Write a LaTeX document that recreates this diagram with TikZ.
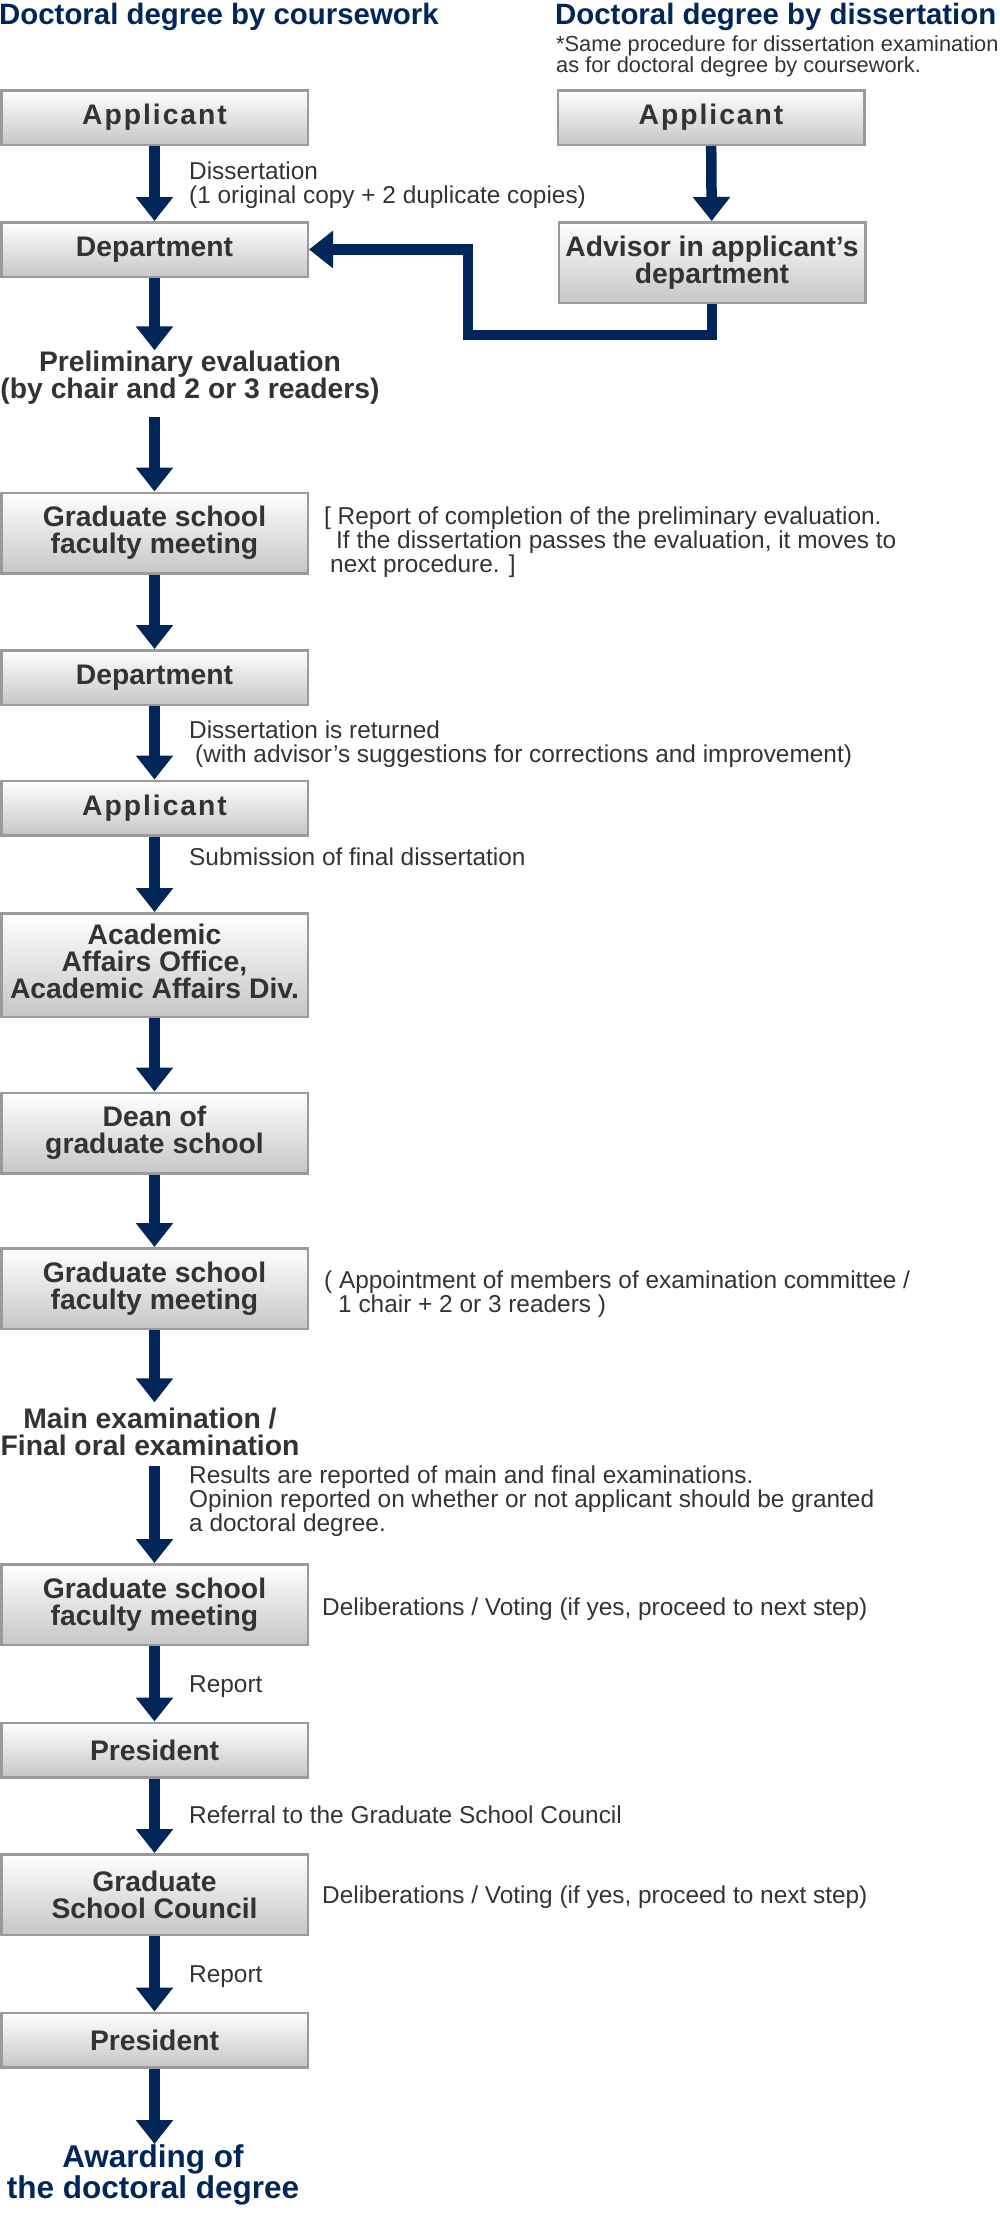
\documentclass[tikz,border=0pt]{standalone}
\usepackage{fontspec}
\setmainfont{Liberation Sans}
\usetikzlibrary{arrows.meta}
\definecolor{navy}{HTML}{00265A}
\definecolor{txtgray}{HTML}{333333}
\definecolor{boxline}{HTML}{9A9A9A}
\definecolor{boxbot}{HTML}{C6C6C6}
\newcommand\dgBoxFont{\fontsize{28.3}{27}\selectfont\bfseries}
\newcommand\dgSideFont{\fontsize{24.4}{24}\selectfont}
\newcommand\dgNoteFont{\fontsize{21.8}{21}\selectfont}
\newcommand\dgTitleFont{\fontsize{29.4}{30}\selectfont\bfseries}
\newcommand\dgAwardFont{\fontsize{31.5}{31}\selectfont\bfseries}
\newcommand\dgSpaced[1]{{\addfontfeature{LetterSpace=7}#1}}
\begin{document}
\begin{tikzpicture}[x=1pt,y=-1pt,
  box/.style={rectangle, draw=boxline, line width=2.5pt, top color=white, bottom color=boxbot,
    minimum width=306.5pt, inner sep=0pt, text=txtgray, font=\dgBoxFont, align=center},
  sbox/.style={box, minimum height=54.5pt},
  tbox/.style={box, minimum height=80.5pt},
  sidetext/.style={inner sep=0pt, align=left, anchor=base west, text=txtgray, font=\dgSideFont},
  steptext/.style={inner sep=0pt, align=center, anchor=base, text=txtgray, font=\dgBoxFont},
  titletext/.style={inner sep=0pt, align=left, anchor=base west, text=navy, font=\dgTitleFont},
  arr/.style={draw=navy, line width=10.5pt, line join=miter, -{Triangle[width=36pt,length=24pt]}}]
\useasboundingbox (0,0) rectangle (1000,2240);

% titles (multi-line nodes are placed by the baseline of their last line)
\node[titletext] (t1) at (-1,25) {Doctoral degree by coursework};
\node[titletext] (t2) at (555,25) {Doctoral degree by dissertation};
\node[inner sep=0pt, align=left, anchor=base west, text=txtgray, font=\dgNoteFont] (note) at (556,73)
  {*Same procedure for dissertation examination\\as for doctoral degree by coursework.};

% left column
\node[sbox] (app1) at (154.5,117.5) {\dgSpaced{Applicant}};
\node[sbox] (dep1) at (154.5,249.5) {Department};
\node[steptext] (prelim) at (190,398) {Preliminary evaluation\\(by chair and 2 or 3 readers)};
\node[tbox] (gsfm1) at (154.5,533) {Graduate school\\faculty meeting};
\node[sbox] (dep2) at (154.5,677.5) {Department};
\node[sbox] (app2) at (154.5,808) {\dgSpaced{Applicant}};
\node[box, minimum height=103.5pt] (acad) at (154.5,965) {Academic\\Affairs Office,\\Academic Affairs Div.\rule[-8pt]{0pt}{8pt}};
\node[tbox] (dean) at (154.5,1133) {Dean of\\graduate school};
\node[tbox] (gsfm2) at (154.5,1288.5) {Graduate school\\faculty meeting};
\node[steptext] (mainex) at (150,1455) {Main examination /\\Final oral examination};
\node[tbox] (gsfm3) at (154.5,1604.5) {Graduate school\\faculty meeting};
\node[sbox] (pres1) at (154.5,1750) {President};
\node[tbox] (gsc) at (154.5,1894.5) {Graduate\\School Council};
\node[sbox] (pres2) at (154.5,2040) {President};
\node[steptext, text=navy, font=\dgAwardFont] (award) at (153,2198) {Awarding of\\the doctoral degree};

% right column
\node[sbox] (app3) at (711,117.5) {\dgSpaced{Applicant}};
\node[tbox] (adv) at (712,262.5) {Advisor in applicant’s\\department};

% side labels
\node[sidetext] (l1) at (189,203) {Dissertation\\(1 original copy + 2 duplicate copies)};
\node[sidetext] (l2) at (324,572) {[ Report of completion of the preliminary evaluation.\\\hspace*{12pt}If the dissertation passes the evaluation, it moves to\\\hspace*{6pt}next procedure. ]};
\node[sidetext] (l3) at (189,762) {Dissertation is returned\\\hspace*{6pt}(with advisor’s suggestions for corrections and improvement)};
\node[sidetext] (l4) at (189,865) {Submission of final dissertation};
\node[sidetext] (l5) at (324,1312) {( Appointment of members of examination committee /\\\hspace*{14pt}1 chair + 2 or 3 readers )};
\node[sidetext] (l6) at (189,1531) {Results are reported of main and final examinations.\\Opinion reported on whether or not applicant should be granted\\a doctoral degree.};
\node[sidetext] (l7) at (322,1615) {Deliberations / Voting (if yes, proceed to next step)};
\node[sidetext] (l8) at (189,1692) {Report};
\node[sidetext] (l9) at (189,1823) {Referral to the Graduate School Council};
\node[sidetext] (l10) at (322,1903) {Deliberations / Voting (if yes, proceed to next step)};
\node[sidetext] (l11) at (189,1982) {Report};

% connectors
\draw[arr] (app1) -- (dep1);
\draw[arr] (dep1.south) -- (prelim.north -| dep1.south);
\draw[arr] ([yshift=-13pt]prelim.south -| gsfm1.north) -- (gsfm1.north);
\draw[arr] (gsfm1) -- (dep2);
\draw[arr] (dep2) -- (app2);
\draw[arr] (app2) -- (acad);
\draw[arr] (acad) -- (dean);
\draw[arr] (dean) -- (gsfm2);
\draw[arr] (gsfm2.south) -- ([yshift=5pt]mainex.north -| gsfm2.south);
\draw[arr] ([yshift=-11pt]mainex.south -| gsfm3.north) -- (gsfm3.north);
\draw[arr] (gsfm3) -- (pres1);
\draw[arr] (pres1) -- (gsc);
\draw[arr] (gsc) -- (pres2);
\draw[arr] (pres2.south) -- (award.north -| pres2.south);
\draw[arr] (app3) -- (adv);
\coordinate (elb) at (468,335);
\draw[arr] (adv.south) |- (elb) |- (dep1.east);
\end{tikzpicture}
\end{document}
